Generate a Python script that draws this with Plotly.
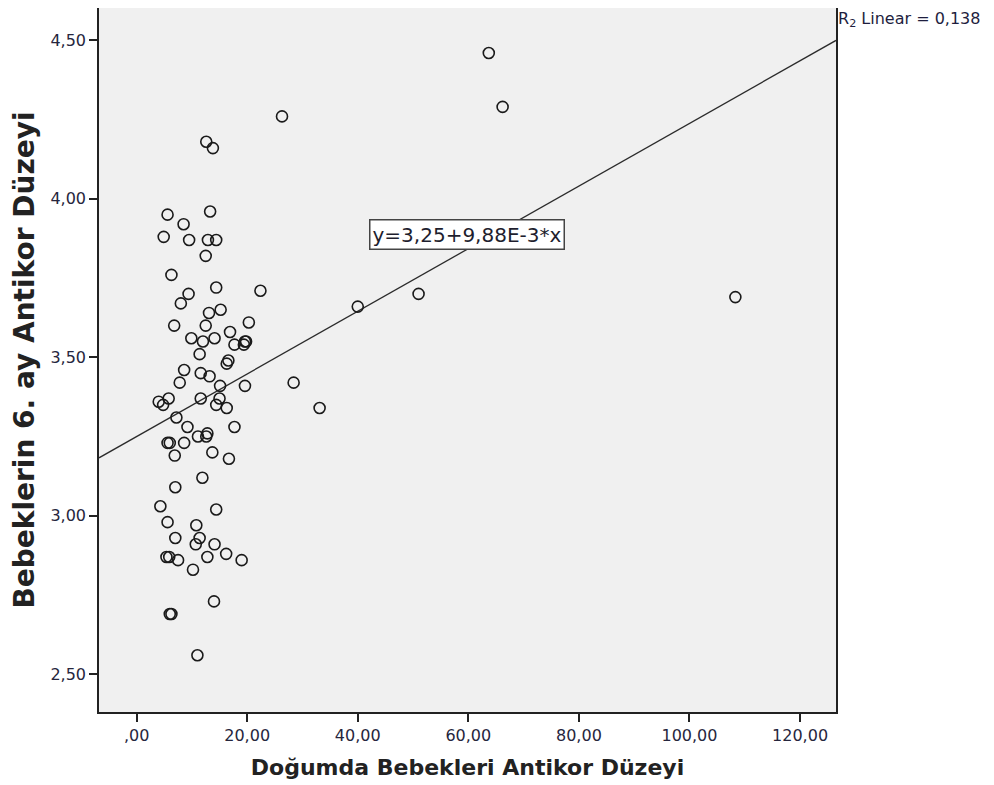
import plotly.graph_objects as go

# ---- data ----
x_birth = [12.6, 13.8, 5.6, 13.3, 8.5, 4.9, 9.5, 12.9, 14.4, 12.5,
           6.3, 14.4, 9.4, 22.4, 8.0, 13.1, 15.2, 6.8, 12.5, 20.3,
           9.9, 12.0, 14.1, 16.9, 17.7, 19.6, 19.8, 19.4, 11.4, 16.6,
           16.3, 8.6, 11.6, 13.2, 7.8, 15.1, 19.6, 5.8, 4.0, 4.8,
           11.6, 15.0, 14.4, 16.3, 7.2, 9.2, 17.7, 11.1, 12.8, 12.6,
           5.6, 6.0, 8.6, 13.7, 6.9, 16.7, 11.9, 7.0, 4.3, 14.4,
           5.6, 10.8, 7.0, 11.4, 10.7, 14.1, 5.4, 5.9, 7.5, 12.8,
           16.2, 19.0, 10.2, 14.0, 6.0, 6.3, 11.0, 26.3, 63.7, 66.2,
           40.0, 51.0, 108.3, 28.4, 33.1]
y_month6 = [4.18, 4.16, 3.95, 3.96, 3.92, 3.88, 3.87, 3.87, 3.87, 3.82,
            3.76, 3.72, 3.70, 3.71, 3.67, 3.64, 3.65, 3.60, 3.60, 3.61,
            3.56, 3.55, 3.56, 3.58, 3.54, 3.55, 3.55, 3.54, 3.51, 3.49,
            3.48, 3.46, 3.45, 3.44, 3.42, 3.41, 3.41, 3.37, 3.36, 3.35,
            3.37, 3.37, 3.35, 3.34, 3.31, 3.28, 3.28, 3.25, 3.26, 3.25,
            3.23, 3.23, 3.23, 3.20, 3.19, 3.18, 3.12, 3.09, 3.03, 3.02,
            2.98, 2.97, 2.93, 2.93, 2.91, 2.91, 2.87, 2.87, 2.86, 2.87,
            2.88, 2.86, 2.83, 2.73, 2.69, 2.69, 2.56, 4.26, 4.46, 4.29,
            3.66, 3.70, 3.69, 3.42, 3.34]

fit_intercept = 3.25
fit_slope = 9.88e-3

x_tick_vals = [0, 20, 40, 60, 80, 100, 120]
x_tick_text = [",00", "20,00", "40,00", "60,00", "80,00", "100,00", "120,00"]
y_tick_vals = [2.5, 3.0, 3.5, 4.0, 4.5]
y_tick_text = ["2,50", "3,00", "3,50", "4,00", "4,50"]

x_range = [-6.8, 126.5]
y_range = [2.381, 4.602]

fig = go.Figure()

fig.add_trace(go.Scatter(
    x=x_range,
    y=[fit_intercept + fit_slope * v for v in x_range],
    mode="lines",
    line=dict(color="#2b2b2b", width=1.3),
    hoverinfo="skip",
    showlegend=False,
))

fig.add_trace(go.Scatter(
    x=x_birth, y=y_month6,
    mode="markers",
    marker=dict(symbol="circle-open", size=11, color="#1a1a1a",
                line=dict(width=1.6, color="#1a1a1a")),
    showlegend=False,
))

tick_font = dict(family="DejaVu Sans", size=16, color="#26263d")

# page body has an 8px margin, so the figure is 8px smaller than the window
fig.update_layout(
    width=986, height=777,
    margin=dict(l=91, r=158, t=0, b=73),
    paper_bgcolor="white",
    plot_bgcolor="#f0f0f0",
    xaxis=dict(
        range=x_range, tickvals=x_tick_vals, ticktext=x_tick_text,
        showgrid=False, zeroline=False, automargin=False,
        showline=True, linecolor="#222222", linewidth=1.5, mirror=True,
        ticks="outside", ticklen=8, tickwidth=1.5, tickcolor="#222222",
        tickfont=tick_font,
        title=dict(text="<b>Doğumda Bebekleri Antikor Düzeyi</b>",
                   font=dict(family="DejaVu Sans", size=22, color="#222222"),
                   standoff=16),
    ),
    yaxis=dict(
        range=y_range, tickvals=y_tick_vals, ticktext=y_tick_text,
        showgrid=False, zeroline=False, automargin=False,
        showline=True, linecolor="#222222", linewidth=1.5, mirror=True,
        ticks="outside", ticklen=8, tickwidth=1.5, tickcolor="#222222",
        tickfont=tick_font,
        title=dict(text="<b>Bebeklerin 6. ay Antikor Düzeyi</b>",
                   font=dict(family="DejaVu Sans", size=28, color="#222222"),
                   standoff=8),
    ),
    annotations=[
        dict(x=59.7, y=3.889, xref="x", yref="y",
             text="y=3,25+9,88E-3*x", showarrow=False,
             font=dict(family="DejaVu Sans", size=20, color="#1e1e2e"),
             bgcolor="white", bordercolor="#444444", borderwidth=1.5,
             borderpad=2),
        dict(x=1.0, y=0.983, xref="paper", yref="paper",
             xanchor="left", yanchor="middle",
             text="R<sub>2</sub> Linear = 0,138", showarrow=False,
             font=dict(family="DejaVu Sans", size=16, color="#1e1e3e")),
    ],
)

fig.write_html("out.html")
